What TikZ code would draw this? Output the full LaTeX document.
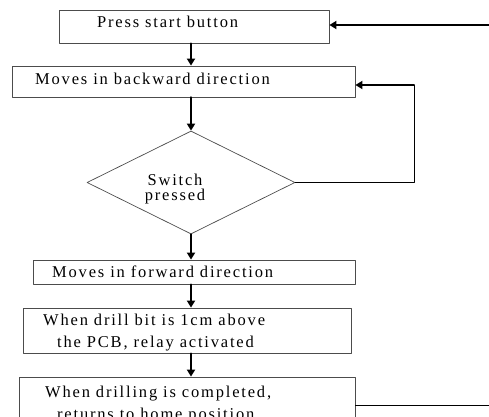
\documentclass[tikz,border=0pt]{standalone}
\usepackage{fontspec}
\setmainfont{Liberation Serif}[LetterSpace=11]
\usetikzlibrary{shapes.geometric,arrows.meta}
\begin{document}
\begin{tikzpicture}[line cap=round,line join=round,x=1pt,y=1pt,
	box/.style={draw=black!70,line width=0.8pt,rectangle,inner sep=0pt},
	txt/.style={anchor=base west,inner sep=0pt,font=\fontsize{16.5}{21.7}\selectfont},
	flow/.style={line width=1.8pt,-{Triangle[length=7pt,width=8pt]}}]
	\useasboundingbox (0,0) rectangle (489,416);
	\clip (0,0) rectangle (489,416);
	% boxes
	\node[box,minimum width=270pt,minimum height=33pt] (start) at (194,389.5) {};
	\node[box,minimum width=343pt,minimum height=31pt] (back) at (183.5,334.5) {};
	\node[draw=black!70,line width=0.7pt,diamond,minimum width=208pt,minimum height=103pt,inner sep=0pt] (sw) at (191,233.5) {};
	\node[box,minimum width=322pt,minimum height=24pt] (fwd) at (194,144) {};
	\node[box,minimum width=328pt,minimum height=45pt] (relay) at (187,85.5) {};
	\node[box,minimum width=336pt,minimum height=48pt] (home) at (187,15) {};
	% texts
	\node[txt] (tstart) at (97,388) {Press start button};
	\node[txt] (tback) at (35,332) {Moves in backward direction};
	\node[txt,anchor=base,align=center,font=\fontsize{16.5}{14.5}\selectfont] (tsw) at (175,216) {Switch\\pressed};
	\node[txt] (tfwd) at (52,138.7) {Moves in forward direction};
	\node[txt] (trelay1) at (43,91) {When drill bit is 1cm above};
	\node[txt] (trelay2) at (57,68.7) {the PCB, relay activated};
	\node[txt] (thome1) at (45,18.7) {When drilling is completed,};
	\node[txt] (thome2) at (57,-3) {returns to home position};
	% connectors
	\draw[flow] (start.south -| sw.north) -- (back.north -| sw.north);
	\draw[flow,line width=2.6pt] (back.south -| sw.north) -- (sw.north);
	\draw[flow] (sw.south) -- (fwd.north -| sw.south);
	\draw[flow] (fwd.south -| sw.south) -- (relay.north -| sw.south);
	\draw[flow] (relay.south -| sw.south) -- (home.north -| sw.south);
	\coordinate (in) at (489,391);
	\draw[flow] (in) -- (in -| start.east);
	\coordinate (loop) at (414,331);
	\draw[line width=1pt] (sw.east) -| (loop);
	\draw[flow] (loop) -- (loop -| back.east);
	\coordinate (out) at (489,11);
	\draw[line width=0.8pt] (home.east |- out) -- (out);
\end{tikzpicture}
\end{document}
